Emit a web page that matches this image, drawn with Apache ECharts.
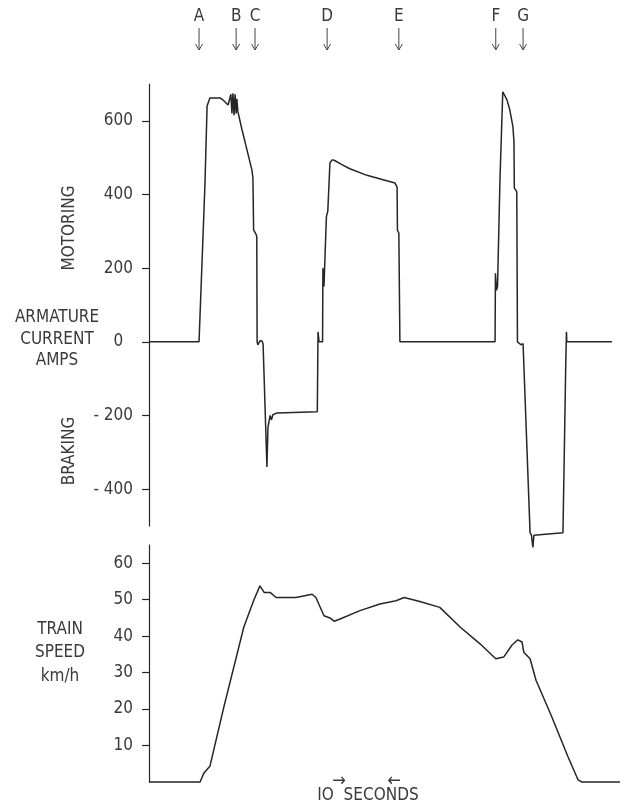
<!DOCTYPE html>
<html>
<head>
<meta charset="utf-8">
<script src="https://cdn.jsdelivr.net/npm/echarts@6/dist/echarts.min.js"></script>
<style>
html,body{margin:0;padding:0;background:#fff;}
#chart{width:624px;height:805px;}
</style>
</head>
<body>
<div id="chart"></div>
<script>
// ---- data (time in seconds) ----
var eventLabels = ['A','B','C','D','E','F','G'];
var eventTimes  = [14.3, 24.9, 30.3, 50.9, 71.4, 99.1, 106.9];

var currentTime = [0, 14.3, 16.0, 16.6, 17.4, 20.3, 21.1, 22.6,
  23.1, 23.4, 23.7, 24.0, 24.3, 24.6, 24.9, 25.1, 25.4,
  26.6, 28.0, 29.4, 29.7, 29.9, 30.6, 30.8, 30.9, 31.1, 31.7, 32.3, 32.6,
  33.7, 34.0, 34.6, 35.0, 35.4, 36.6, 48.1, 48.3, 48.6, 49.6, 49.7, 50.0,
  50.4, 50.7, 51.1, 51.7, 52.3, 52.9, 55.0, 57.4, 62.3, 66.9, 70.3, 70.9, 71.0,
  71.4, 71.7, 98.9, 99.0, 99.3, 99.6, 100.3, 101.1, 102.3, 103.1, 104.0,
  104.3, 104.4, 105.1, 105.3, 105.7, 106.3, 106.9, 108.9, 109.3, 109.7,
  110.0, 118.3, 119.1, 119.3, 119.4, 132.3];
var currentAmps = [0, 0, 430, 640, 662, 662, 657, 643,
  640, 672, 620, 675, 615, 672, 620, 660, 625,
  575, 521, 467, 445, 304, 292, 285, 0, -8, 3, 2, -5,
  -340, -232, -200, -212, -198, -193, -190, 27, 0, 0, 200, 150,
  148, 340, 355, 485, 494, 493, 482, 470, 452, 440, 431, 420, 303,
  295, 0, 0, 186, 140, 150, 440, 679, 657, 630, 584,
  543, 418, 407, 0, 5, -8, -5, -518, -525, -558,
  -525, -518, -60, 27, 0, 0];

var speedTime = [0, 14.6, 15.7, 17.4, 21.4, 27.1, 30.0, 31.7, 32.9, 34.6, 36.3,
  42.0, 46.6, 47.7, 50.0, 51.7, 52.9, 54.6, 60.3, 66.0, 70.6, 72.9, 77.4,
  83.1, 88.9, 94.6, 99.1, 101.4, 103.7, 105.4, 106.6, 107.1, 108.9, 110.6,
  115.1, 119.7, 122.6, 123.7, 134.6];
var speedKmh = [0, 0, 2.5, 4.3, 20.6, 42.5, 50.0, 53.8, 52, 52, 50.6,
  50.6, 51.5, 50.6, 45.6, 45, 44.1, 44.7, 47, 48.8, 49.7, 50.6, 49.5,
  47.9, 42.5, 37.9, 33.8, 34.3, 37.5, 39, 38.4, 35.6, 33.8, 27.9,
  17.9, 7, 0.6, 0, 0];

var currentTicks = [-400, -200, 0, 200, 400, 600];
var speedTicks = [10, 20, 30, 40, 50, 60];

// ---- chart ----
var FONT = "'DejaVu Sans Condensed', 'DejaVu Sans', sans-serif";
var TXT = '#3a3a3a';
var INK = '#262626';

function zip(a, b) { return a.map(function (v, i) { return [v, b[i]]; }); }

function txt(text, x, y, opts) {
  var o = {
    type: 'text', x: x, y: y,
    style: {
      text: text, font: '17px ' + FONT, fill: TXT,
      align: 'center', verticalAlign: 'middle'
    }
  };
  if (opts) for (var k in opts) o[k] = opts[k];
  return o;
}

var chart = echarts.init(document.getElementById('chart'), null, {renderer: 'canvas'});

var axisCommon = {
  axisLine: {show: true, lineStyle: {color: INK, width: 1.2}},
  axisTick: {show: true, length: 7, lineStyle: {color: INK, width: 1.2}},
  splitLine: {show: false}
};

chart.setOption({
  animation: false,
  backgroundColor: '#fff',
  grid: [
    {left: 149, right: 4, top: 0, height: 60},
    {left: 149, right: 4, top: 84, height: 442},
    {left: 149, right: 4, top: 545, height: 237}
  ],
  xAxis: [0, 1, 2].map(function (i) {
    return {type: 'value', gridIndex: i, min: 0, max: 134.6, show: false};
  }),
  yAxis: [
    {type: 'value', gridIndex: 0, min: 0, max: 60, show: false},
    Object.assign({}, axisCommon, {
      type: 'value', gridIndex: 1, min: -500, max: 700,
      axisTick: Object.assign({}, axisCommon.axisTick, {customValues: currentTicks}),
      axisLabel: {
        customValues: currentTicks, margin: 16,
        color: TXT, fontSize: 17, fontFamily: FONT,
        formatter: function (v) {
          if (v === 0) return '0  ';
          if (v < 0) return '- ' + Math.abs(v);
          return String(v);
        }
      }
    }),
    Object.assign({}, axisCommon, {
      type: 'value', gridIndex: 2, min: 0, max: 65,
      axisTick: Object.assign({}, axisCommon.axisTick, {customValues: speedTicks}),
      axisLabel: {
        customValues: speedTicks, margin: 16,
        color: TXT, fontSize: 17, fontFamily: FONT
      }
    })
  ],
  series: [
    {
      type: 'custom', xAxisIndex: 0, yAxisIndex: 0,
      data: eventTimes.map(function (t) { return [t]; }),
      clip: false,
      renderItem: function (params, api) {
        var x = api.coord([api.value(0), 0])[0];
        var top = params.coordSys.y;
        return {
          type: 'group',
          children: [
            {type: 'text', style: {text: eventLabels[params.dataIndex], x: x, y: top + 17,
              align: 'center', verticalAlign: 'middle', font: '17px ' + FONT, fill: TXT}},
            {type: 'line', shape: {x1: x, y1: top + 28, x2: x, y2: top + 50},
              style: {stroke: '#444', lineWidth: 1}},
            {type: 'polyline', shape: {points: [[x - 3.5, top + 44], [x, top + 50], [x + 3.5, top + 44]]},
              style: {stroke: '#444', lineWidth: 1, fill: null}}
          ]
        };
      }
    },
    {
      type: 'line', xAxisIndex: 1, yAxisIndex: 1,
      data: zip(currentTime, currentAmps),
      showSymbol: false, clip: false, smooth: false,
      lineStyle: {color: INK, width: 1.5}
    },
    {
      type: 'line', xAxisIndex: 2, yAxisIndex: 2,
      data: zip(speedTime, speedKmh),
      showSymbol: false, clip: false, smooth: false,
      lineStyle: {color: INK, width: 1.5}
    }
  ],
  graphic: [
    txt('ARMATURE', 57, 318),
    txt('CURRENT', 57, 340),
    txt('AMPS', 57, 361),
    txt('MOTORING', 70, 228, {rotation: Math.PI / 2}),
    txt('BRAKING', 70, 451, {rotation: Math.PI / 2}),
    txt('TRAIN', 60, 630),
    txt('SPEED', 60, 653),
    txt('km/h', 60, 677),
    txt('\u2192', 339, 781, {style: {text: '\u2192', font: '18px ' + FONT, fill: TXT, align: 'center', verticalAlign: 'middle'}}),
    txt('\u2190', 394, 781, {style: {text: '\u2190', font: '18px ' + FONT, fill: TXT, align: 'center', verticalAlign: 'middle'}}),
    txt('IO  SECONDS', 368, 796)
  ]
});
</script>
</body>
</html>
